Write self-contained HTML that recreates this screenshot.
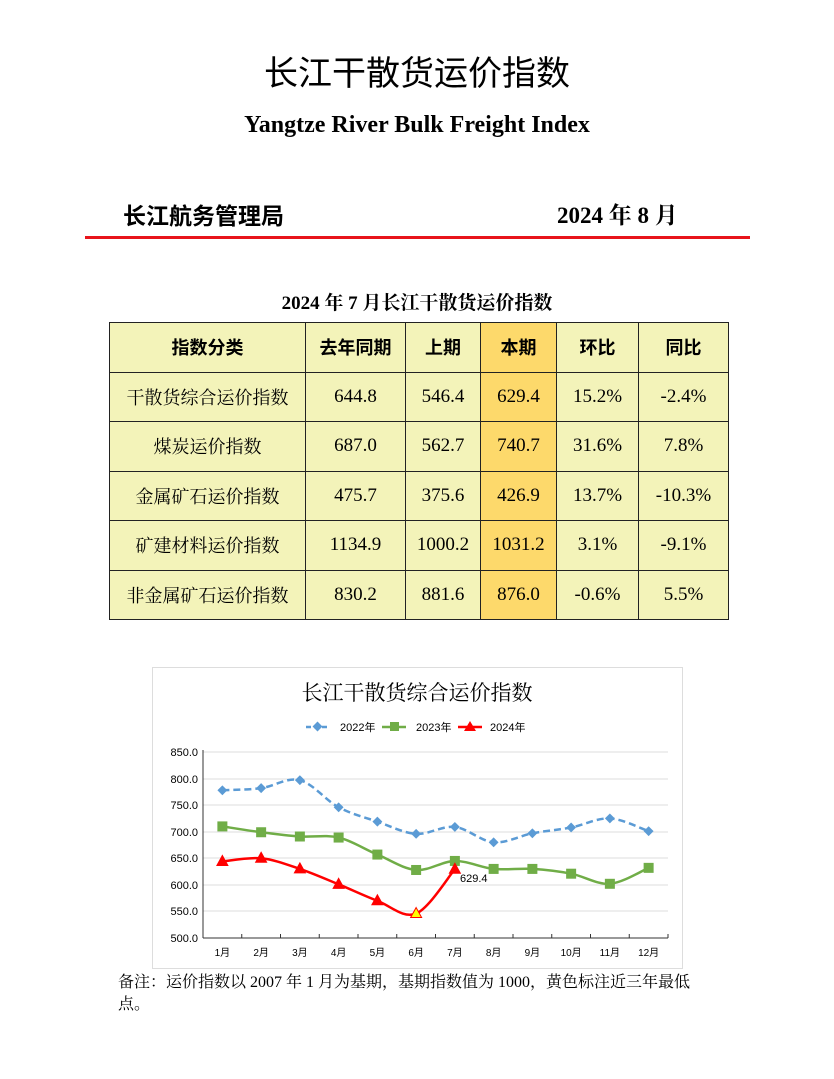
<!DOCTYPE html>
<html><head><meta charset="utf-8"><style>
body{margin:0;width:834px;height:1079px;background:#fff;position:relative;font-family:"Liberation Serif","Noto Serif CJK SC",serif;overflow:hidden}
.a{position:absolute;white-space:nowrap}
table{position:absolute;left:109px;top:322px;border-collapse:collapse;font-size:19px}
td{border:1.5px solid #222;background:#f3f3b9;text-align:center;height:48.5px;padding:0}
td.h{background:#fdd96b}
tr:first-child td{font-family:"Noto Sans CJK SC",sans-serif;font-weight:bold;font-size:18px}
td.n{font-family:"Noto Serif CJK SC",serif;font-size:18px}
</style></head><body>
<div class="a" style="left:0;width:834px;text-align:center;top:46px;font-size:34px;font-family:'Noto Sans CJK SC',sans-serif">长江干散货运价指数</div>
<div class="a" style="left:0;width:834px;text-align:center;top:112px;font-size:24px;font-weight:bold">Yangtze River Bulk Freight Index</div>
<div class="a" style="left:123px;top:197px;font-size:23px;font-family:'Noto Sans CJK SC',sans-serif;font-weight:bold">长江航务管理局</div>
<div class="a" style="left:557px;top:197px;font-size:23px;font-weight:bold">2024 年 8 月</div>
<div class="a" style="left:85px;top:236px;width:665px;height:3px;background:#e8141b"></div>
<div class="a" style="left:0;width:834px;text-align:center;top:288px;font-size:19px;font-weight:bold">2024 年 7 月长江干散货运价指数</div>
<table>
<tr><td style="width:195px">指数分类</td><td style="width:99px">去年同期</td><td style="width:74px">上期</td><td class="h" style="width:75px">本期</td><td style="width:81px">环比</td><td style="width:89px">同比</td></tr>
<tr><td class="n">干散货综合运价指数</td><td>644.8</td><td>546.4</td><td class="h">629.4</td><td>15.2%</td><td>-2.4%</td></tr>
<tr><td class="n">煤炭运价指数</td><td>687.0</td><td>562.7</td><td class="h">740.7</td><td>31.6%</td><td>7.8%</td></tr>
<tr><td class="n">金属矿石运价指数</td><td>475.7</td><td>375.6</td><td class="h">426.9</td><td>13.7%</td><td>-10.3%</td></tr>
<tr><td class="n">矿建材料运价指数</td><td>1134.9</td><td>1000.2</td><td class="h">1031.2</td><td>3.1%</td><td>-9.1%</td></tr>
<tr><td class="n">非金属矿石运价指数</td><td>830.2</td><td>881.6</td><td class="h">876.0</td><td>-0.6%</td><td>5.5%</td></tr>
</table>
<svg class="a" style="left:0;top:0" width="834" height="1079" font-family="Liberation Sans, Noto Sans CJK SC, sans-serif">
<rect x="152.5" y="667.5" width="530" height="301" fill="#fff" stroke="#ddd"/>
<text x="417" y="700" font-size="21" text-anchor="middle" font-family="Noto Serif CJK SC, serif">长江干散货综合运价指数</text>
<g font-size="11">
<line x1="306" y1="727" x2="330" y2="727" stroke="#5b9bd5" stroke-width="2.5" stroke-dasharray="5,3"/><rect x="314" y="723" width="7" height="7" fill="#5b9bd5" transform="rotate(45 317.5 726.5)"/><text x="340" y="731">2022年</text>
<line x1="382" y1="727" x2="406" y2="727" stroke="#70ad47" stroke-width="2.5"/><rect x="390" y="722" width="9" height="9" fill="#70ad47"/><text x="416" y="731">2023年</text>
<line x1="458" y1="727" x2="482" y2="727" stroke="#f00" stroke-width="2.5"/><polygon points="470,721 476,731 464,731" fill="#f00"/><text x="490" y="731">2024年</text>
</g>
<g stroke="#ddd"><line x1="203" y1="752" x2="668" y2="752"/><line x1="203" y1="779" x2="668" y2="779"/><line x1="203" y1="805" x2="668" y2="805"/><line x1="203" y1="832" x2="668" y2="832"/><line x1="203" y1="858" x2="668" y2="858"/><line x1="203" y1="885" x2="668" y2="885"/><line x1="203" y1="911" x2="668" y2="911"/></g>
<g stroke="#333"><line x1="203" y1="750" x2="203" y2="938"/><line x1="203" y1="938" x2="668" y2="938"/></g>
<g font-size="11" text-anchor="end"><text x="198" y="756">850.0</text><text x="198" y="783">800.0</text><text x="198" y="809">750.0</text><text x="198" y="836">700.0</text><text x="198" y="862">650.0</text><text x="198" y="889">600.0</text><text x="198" y="915">550.0</text><text x="198" y="942">500.0</text></g>
<g id="xl" font-size="10" text-anchor="middle"></g>
<g id="s"></g>
<text x="460" y="882" font-size="11">629.4</text>
</svg>
<div class="a" style="left:118px;top:972px;font-size:16px;line-height:22px;white-space:normal;width:600px">备注：运价指数以 2007 年 1 月为基期，基期指数值为 1000，黄色标注近三年最低点。</div>
<script>
var X=i=>203+38.75*(i+0.5),Y=v=>938-(v-500)*186/350;
var d1=[778,782,797,746,719,696,709,680,697,708,725,701],d2=[710,699,691,689,657,628,645,630,630,621,602,632],d3=[644,650,630,601,570,546,629.4];
var s=document.getElementById('s'),xl=document.getElementById('xl'),h='';
function path(d){var p=d.map((v,i)=>[X(i),Y(v)]),r='M'+p[0];for(var i=1;i<p.length;i++){var a=p[i-2]||p[i-1],b=p[i-1],c=p[i],e=p[i+1]||c;r+=' C'+(b[0]+(c[0]-a[0])/6)+','+(b[1]+(c[1]-a[1])/6)+' '+(c[0]-(e[0]-b[0])/6)+','+(c[1]-(e[1]-b[1])/6)+' '+c;}return r}
h+='<path d="'+path(d1)+'" fill="none" stroke="#5b9bd5" stroke-width="2.5" stroke-dasharray="7,4"/>';
h+='<path d="'+path(d2)+'" fill="none" stroke="#70ad47" stroke-width="2.5"/>';
h+='<path d="'+path(d3)+'" fill="none" stroke="#f00" stroke-width="2.5"/>';
d1.forEach((v,i)=>h+='<rect x="'+(X(i)-3.5)+'" y="'+(Y(v)-3.5)+'" width="7" height="7" fill="#5b9bd5" transform="rotate(45 '+X(i)+' '+Y(v)+')"/>');
d2.forEach((v,i)=>h+='<rect x="'+(X(i)-5)+'" y="'+(Y(v)-5)+'" width="10" height="10" fill="#70ad47"/>');
d3.forEach((v,i)=>{var x=X(i),y=Y(v);h+='<polygon points="'+x+','+(y-6)+' '+(x+5.5)+','+(y+4)+' '+(x-5.5)+','+(y+4)+'" fill="'+(i==5?'#ff0':'#f00')+'" stroke="#f00" stroke-width="1"/>'});
s.innerHTML=h;var t='';for(var i=0;i<12;i++){t+='<text x="'+X(i)+'" y="956">'+(i+1)+'月</text><line x1="'+(203+38.75*(i+1))+'" y1="938" x2="'+(203+38.75*(i+1))+'" y2="934" stroke="#333"/>';}xl.innerHTML=t;
</script>
</body></html>
